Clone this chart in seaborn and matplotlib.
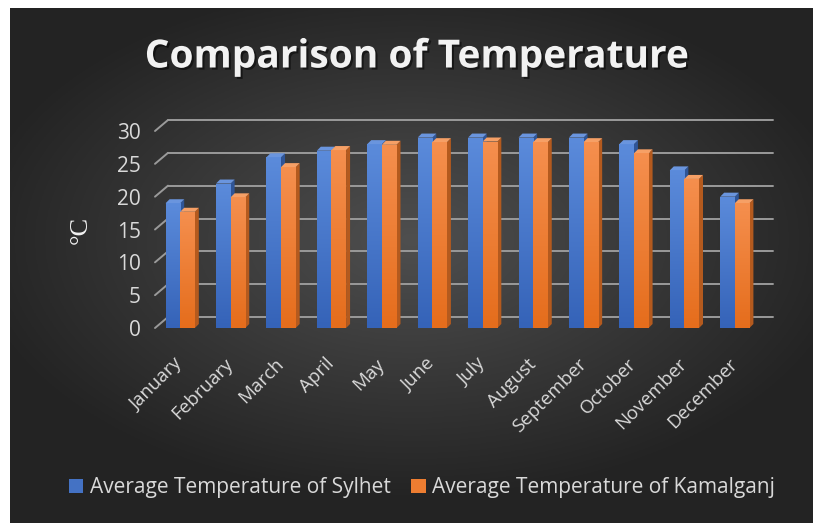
import numpy as np
import pandas as pd
import matplotlib
matplotlib.use("Agg")
import matplotlib.pyplot as plt
import matplotlib.patheffects as pe
from matplotlib.patches import Polygon, Patch
from matplotlib.colors import to_rgb
import seaborn as sns

# data
months = ["January", "February", "March", "April", "May", "June",
          "July", "August", "September", "October", "November", "December"]
sylhet = [19, 22, 26, 27, 28, 29, 29, 29, 29, 28, 24, 20]
kamalganj = [17.7, 19.9, 24.5, 27.1, 27.9, 28.3, 28.4, 28.3, 28.3, 26.6, 22.7, 19.0]
series_names = ["Average Temperature of Sylhet", "Average Temperature of Kamalganj"]
y_ticks = [0, 5, 10, 15, 20, 25, 30]

colors = {"front": ["#4472C4", "#ED7D31"],
          "light": ["#5B8BDB", "#F58F4E"],
          "dark": ["#3563B8", "#E56D1C"],
          "side": ["#2F5597", "#B45A1E"],
          "top": ["#6A95DE", "#F6A066"]}

df = pd.DataFrame({
    "Month": months * 2,
    "Temp": sylhet + kamalganj,
    "Series": [series_names[0]] * 12 + [series_names[1]] * 12,
})

sns.set_style("white")
plt.rcParams["font.family"] = ["Open Sans", "DejaVu Sans"]

fig = plt.figure(figsize=(8.13, 5.23), dpi=100)
fig.patch.set_facecolor("white")

# dark radial gradient background
bg = fig.add_axes([10 / 813, 0, 803 / 813, 515 / 523])
gx, gy = np.meshgrid(np.linspace(-1, 1, 400), np.linspace(-1, 1, 260))
r = np.sqrt((gx / 1.1) ** 2 + ((gy + 0.1) / 1.0) ** 2)
shade = np.clip(0.31 - 0.17 * r, 0.14, 0.31)
bg.imshow(np.dstack([shade] * 3), aspect="auto", extent=[0, 1, 0, 1])
bg.set_axis_off()

ax = fig.add_axes([155 / 813, (523 - 328) / 523, 605 / 813, 197 / 523])
ax.set_facecolor("none")

sns.barplot(data=df, x="Month", y="Temp", hue="Series", ax=ax,
            palette=colors["front"], width=0.58, saturation=1,
            legend=False, zorder=3, edgecolor="none", linewidth=0)

ax.set_xlim(-0.5, 11.5)
ax.set_ylim(0, 30)

# perspective gridlines (back wall shifted up/right)
px_x = 605 / 12.0
px_y = 197 / 30.0
gdx, gdy = 13 / px_x, 11 / px_y
for v in y_ticks:
    ax.plot([-0.5, -0.5 + gdx], [v, v + gdy], color="#9a9a9a", lw=1.4,
            clip_on=False, zorder=1)
    ax.plot([-0.5 + gdx, 11.5 + gdx], [v + gdy, v + gdy], color="#9a9a9a",
            lw=1.4, clip_on=False, zorder=1)

# 3D side/top faces and a soft vertical gradient on each bar front
bdx, bdy = 4 / px_x, 4 / px_y
for i, bar in enumerate(list(ax.patches)):
    k = 0 if i < len(months) else 1
    x0, w, h = bar.get_x(), bar.get_width(), bar.get_height()
    x1 = x0 + w
    z = 3 + k
    side = Polygon([(x1, 0), (x1 + bdx, bdy), (x1 + bdx, h + bdy), (x1, h)],
                   closed=True, facecolor=colors["side"][k], edgecolor="none",
                   zorder=z - 0.2, clip_on=False)
    top = Polygon([(x0, h), (x0 + bdx, h + bdy), (x1 + bdx, h + bdy), (x1, h)],
                  closed=True, facecolor=colors["top"][k], edgecolor="none",
                  zorder=z - 0.2, clip_on=False)
    ax.add_patch(side)
    ax.add_patch(top)
    bar.set_zorder(z)
    c_top, c_bot = np.array(to_rgb(colors["light"][k])), np.array(to_rgb(colors["dark"][k]))
    t = np.linspace(0, 1, 64)[:, None]
    grad = (c_top * (1 - t) + c_bot * t)[:, None, :]
    im = ax.imshow(grad, extent=[x0, x1, 0, h], aspect="auto", zorder=z + 0.1,
                   origin="upper")
    im.set_clip_path(bar)

ax.set_xlim(-0.5, 11.5)
ax.set_ylim(0, 30)
sns.despine(ax=ax, left=True, bottom=True)
ax.set_xlabel("")
ax.set_ylabel("°C", fontsize=19, color="#f2f2f2", family="Liberation Serif", labelpad=18)
ax.set_yticks(y_ticks)
ax.tick_params(axis="y", length=0, pad=10, labelsize=15, labelcolor="#d9d9d9")
ax.tick_params(axis="x", length=0, pad=24, labelsize=13.5, labelcolor="#d9d9d9")
for lab in ax.get_xticklabels():
    lab.set_rotation(45)
    lab.set_ha("right")
    lab.set_va("center")
    lab.set_rotation_mode("anchor")

fig.text(0.512, 0.891, "Comparison of Temperature", ha="center", va="center",
         fontsize=28, fontweight="bold", color="#f2f2f2",
         path_effects=[pe.withSimplePatchShadow(offset=(1.5, -1.5), shadow_rgbFace="black", alpha=0.5)])

handles = [Patch(facecolor=c, edgecolor="none") for c in colors["front"]]
leg = fig.legend(handles, series_names, loc="center", bbox_to_anchor=(0.519, 0.067),
                 ncol=2, frameon=False, fontsize=15, labelcolor="#d9d9d9",
                 handlelength=0.7, handleheight=0.7, handletextpad=0.3,
                 columnspacing=1.0)

fig.savefig("out.png", dpi=100)
